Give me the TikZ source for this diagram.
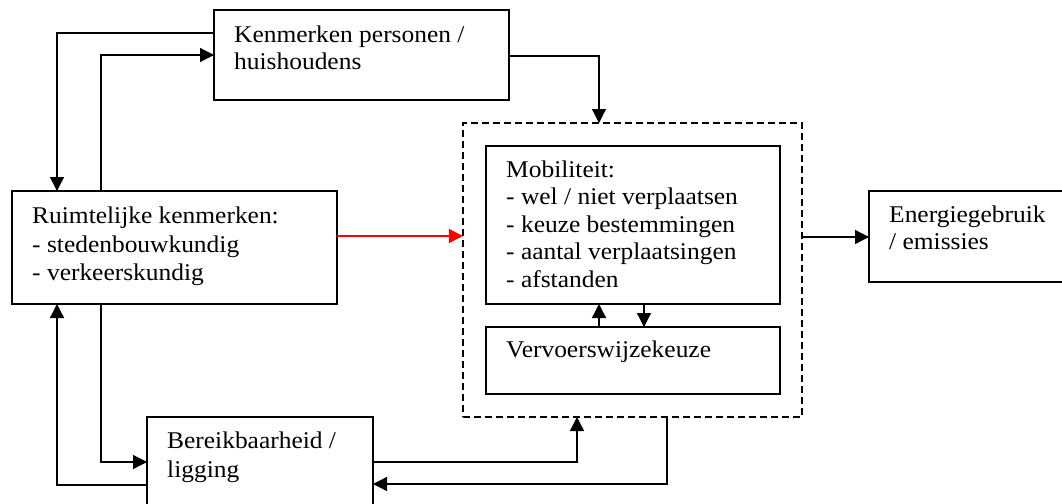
\documentclass[tikz,border=0pt]{standalone}
\usepackage{fontspec}
\setmainfont[FakeStretch=1.06]{Liberation Serif}
\usetikzlibrary{arrows.meta}
\begin{document}
\begin{tikzpicture}[x=1pt,y=-1pt,
  box/.style={draw, line width=1.3pt, inner sep=0pt, outer sep=0pt, anchor=north west},
  dbox/.style={draw, line width=1.3pt, dash pattern=on 7pt off 4pt, inner sep=0pt, outer sep=0pt, anchor=north west},
  txt/.style={anchor=base west, inner sep=0pt, font=\fontsize{24}{28}\selectfont},
  conn/.style={line width=1.3pt, -{Triangle[length=14pt,width=14pt]}},
  redconn/.style={line width=1.3pt, red, -{Triangle[length=14pt,width=14pt]}},
  ]
\useasboundingbox (0,0) rectangle (1062,503);
\clip (0,0) rectangle (1062,503);
% boxes
\node[box, minimum width=295pt, minimum height=90pt] (ken) at (214,10) {};
\node[dbox, minimum width=339pt, minimum height=294pt] (dash) at (463,123) {};
\node[box, minimum width=294pt, minimum height=158pt] (mob) at (486,146) {};
\node[box, minimum width=294pt, minimum height=67pt] (ver) at (486,327) {};
\node[box, minimum width=230pt, minimum height=91pt] (ene) at (869,191) {};
\node[box, minimum width=325pt, minimum height=113pt] (rui) at (12,191) {};
\node[box, minimum width=226pt, minimum height=110pt] (ber) at (147,417) {};
% texts
\node[txt] (k1) at (234,42) {Kenmerken personen /};
\node[txt] (k2) at (234,70) {huishoudens};
\node[txt] (r1) at (32,223) {Ruimtelijke kenmerken:};
\node[txt] (r2) at (32,252) {- stedenbouwkundig};
\node[txt] (r3) at (32,280) {- verkeerskundig};
\node[txt] (m1) at (506,177) {Mobiliteit:};
\node[txt] (m2) at (506,204.5) {- wel / niet verplaatsen};
\node[txt] (m3) at (506,232) {- keuze bestemmingen};
\node[txt] (m4) at (506,259.5) {- aantal verplaatsingen};
\node[txt] (m5) at (506,287) {- afstanden};
\node[txt] (v1) at (506,357) {Vervoerswijzekeuze};
\node[txt] (e1) at (889,222) {Energiegebruik};
\node[txt] (e2) at (889,249) {/ emissies};
\node[txt] (b1) at (167,448) {Bereikbaarheid /};
\node[txt] (b2) at (167,477) {ligging};
% connectors
\draw[conn] (ken.west |- 0,33) -| (57,0 |- rui.north);
\draw[conn] (101,0 |- rui.north) |- (ken.west |- 0,55);
\draw[conn] (ken.east |- 0,56) -| (599,0 |- dash.north);
\draw[redconn] (rui.east |- 0,236) -- (dash.west |- 0,236);
\draw[conn] (dash.east |- 0,237) -- (ene.west |- 0,237);
\draw[conn] (599,0 |- ver.north) -- (599,0 |- mob.south);
\draw[conn] (644,0 |- mob.south) -- (644,0 |- ver.north);
\draw[conn] (101,0 |- rui.south) |- (ber.west |- 0,462);
\draw[conn] (ber.west |- 0,485) -| (57,0 |- rui.south);
\draw[conn] (ber.east |- 0,462) -| (577,0 |- dash.south);
\draw[conn] (667,0 |- dash.south) |- (ber.east |- 0,484);
\end{tikzpicture}
\end{document}
